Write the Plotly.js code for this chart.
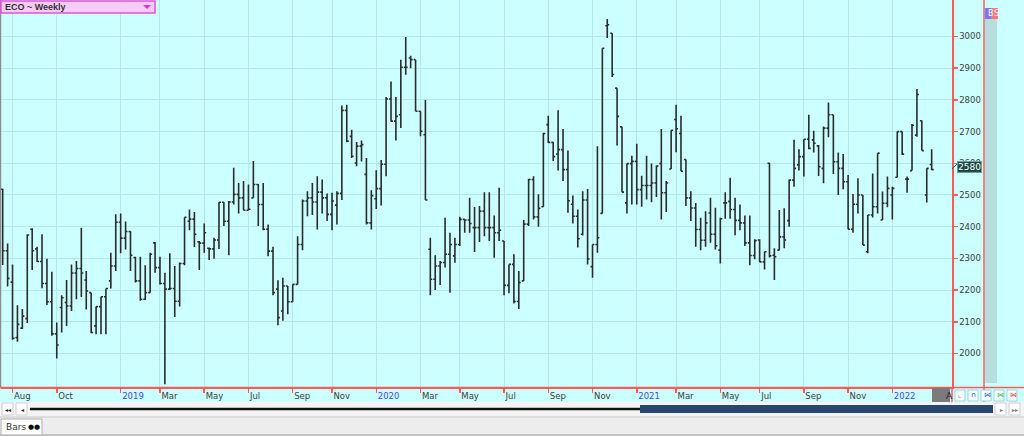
<!DOCTYPE html>
<html>
<head>
<meta charset="utf-8">
<script src="https://cdn.plot.ly/plotly-3.0.1.min.js"></script>
<style>
  html,body{margin:0;padding:0;background:#ccffff;}
  #chart{width:1024px;height:436px;}
</style>
</head>
<body>
<div id="chart"></div>
<script>
// ---- DATA (weekly bars, ECO) ----
const dates = [
'2018-07-20','2018-07-27','2018-08-03','2018-08-10','2018-08-17','2018-08-24','2018-08-31','2018-09-07','2018-09-14','2018-09-21','2018-09-28','2018-10-05','2018-10-12','2018-10-19','2018-10-26','2018-11-02','2018-11-09','2018-11-16','2018-11-23','2018-11-30','2018-12-07','2018-12-14','2018-12-21','2018-12-28',
'2019-01-04','2019-01-11','2019-01-18','2019-01-25','2019-02-01','2019-02-08','2019-02-15','2019-02-22','2019-03-01','2019-03-08','2019-03-15','2019-03-22','2019-03-29','2019-04-05','2019-04-12','2019-04-19','2019-04-26','2019-05-03','2019-05-10','2019-05-17','2019-05-24','2019-05-31','2019-06-07','2019-06-14','2019-06-21','2019-06-28','2019-07-05','2019-07-12','2019-07-19','2019-07-26','2019-08-02','2019-08-09','2019-08-16','2019-08-23','2019-08-30','2019-09-06','2019-09-13','2019-09-20','2019-09-27','2019-10-04','2019-10-11','2019-10-18','2019-10-25','2019-11-01','2019-11-08','2019-11-15','2019-11-22','2019-11-29','2019-12-06','2019-12-13','2019-12-20','2019-12-27',
'2020-01-03','2020-01-10','2020-01-17','2020-01-24','2020-01-31','2020-02-07','2020-02-14','2020-02-21','2020-02-28','2020-03-06','2020-03-13','2020-03-20','2020-03-27','2020-04-03','2020-04-10','2020-04-17','2020-04-24','2020-05-01','2020-05-08','2020-05-15','2020-05-22','2020-05-29','2020-06-05','2020-06-12','2020-06-19','2020-06-26','2020-07-03','2020-07-10','2020-07-17','2020-07-24','2020-07-31','2020-08-07','2020-08-14','2020-08-21','2020-08-28','2020-09-04','2020-09-11','2020-09-18','2020-09-25','2020-10-02','2020-10-09','2020-10-16','2020-10-23','2020-10-30','2020-11-06','2020-11-13','2020-11-20','2020-11-27','2020-12-04','2020-12-11','2020-12-18','2020-12-25',
'2021-01-01','2021-01-08','2021-01-15','2021-01-22','2021-01-29','2021-02-05','2021-02-12','2021-02-19','2021-02-26','2021-03-05','2021-03-12','2021-03-19','2021-03-26','2021-04-02','2021-04-09','2021-04-16','2021-04-23','2021-04-30','2021-05-07','2021-05-14','2021-05-21','2021-05-28','2021-06-04','2021-06-11','2021-06-18','2021-06-25','2021-07-02','2021-07-09','2021-07-16','2021-07-23','2021-07-30','2021-08-06','2021-08-13','2021-08-20','2021-08-27','2021-09-03','2021-09-10','2021-09-17','2021-09-24','2021-10-01','2021-10-08','2021-10-15','2021-10-22','2021-10-29','2021-11-05','2021-11-12','2021-11-19','2021-11-26','2021-12-03','2021-12-10','2021-12-17','2021-12-24','2021-12-31',
'2022-01-07','2022-01-14','2022-01-21','2022-01-28','2022-02-04','2022-02-11','2022-02-18','2022-02-25','2022-03-04'
];
const open = [
2518,2324,2225,2050,2080,2110,2392,2330,2290,2221,2163,2062,2145,2161,2150,2254,2268,2232,2192,2087,2148,2179,2229,2276,
2414,2364,2385,2303,2229,2171,2192,2349,2271,2221,2203,2205,2165,2284,2417,2424,2352,2348,2332,2330,2358,2477,2417,2478,2502,2491,2452,2491,2533,2470,2392,2323,2203,2134,2213,2163,2218,2344,2481,2491,2478,2509,2491,2439,2468,2505,2767,2685,2601,2654,2565,2412,
2488,2520,2597,2803,2733,2753,2903,2932,2927,2764,2690,2329,2234,2276,2287,2313,2308,2344,2423,2421,2397,2397,2449,2397,2397,2381,2355,2215,2281,2164,2229,2408,2549,2431,2463,2722,2666,2629,2643,2580,2471,2433,2376,2484,2274,2344,2442,3034,3010,2837,2715,2475,
2599,2606,2517,2530,2530,2538,2599,2507,2582,2738,2694,2612,2491,2459,2391,2357,2443,2376,2326,2475,2480,2454,2420,2412,2349,2309,2358,2289,2600,2310,2326,2368,2419,2547,2595,2621,2676,2674,2655,2584,2711,2753,2605,2584,2542,2392,2471,2500,2321,2437,2463,2421,2474,
2500,2556,2700,2550,2577,2689,2734,2500,2596
];
const high = [
2520,2347,2281,2152,2140,2376,2395,2337,2376,2299,2258,2098,2184,2232,2281,2292,2397,2260,2192,2148,2179,2205,2318,2439,
2442,2416,2386,2305,2305,2278,2318,2352,2305,2255,2316,2276,2287,2430,2454,2446,2355,2410,2334,2365,2477,2477,2481,2586,2538,2544,2533,2607,2535,2538,2407,2337,2231,2239,2213,2218,2370,2486,2512,2538,2559,2549,2505,2507,2512,2782,2785,2706,2667,2672,2617,2515,
2578,2610,2809,2858,2809,2927,2998,2939,2927,2764,2800,2365,2310,2292,2428,2381,2365,2431,2423,2491,2462,2465,2509,2509,2435,2523,2355,2281,2313,2260,2421,2551,2559,2502,2696,2750,2666,2767,2708,2640,2498,2454,2512,2519,2344,2654,2963,3055,3010,2837,2715,2599,
2624,2662,2561,2624,2599,2593,2708,2544,2704,2785,2750,2612,2512,2475,2428,2449,2491,2460,2428,2509,2554,2491,2470,2435,2435,2360,2360,2321,2602,2332,2453,2458,2549,2674,2644,2676,2753,2703,2658,2716,2792,2753,2634,2629,2563,2503,2553,2500,2437,2568,2632,2511,2558,
2526,2700,2700,2558,2724,2834,2735,2584,2644
];
const low = [
2279,2211,2043,2037,2077,2096,2263,2289,2206,2153,2056,1984,2066,2087,2134,2171,2178,2139,2064,2061,2061,2061,2205,2260,
2316,2328,2260,2224,2166,2169,2192,2255,2218,1903,2200,2115,2148,2278,2389,2336,2263,2318,2295,2299,2330,2402,2310,2470,2442,2452,2452,2491,2402,2389,2307,2184,2089,2103,2124,2163,2218,2326,2433,2437,2391,2442,2418,2389,2407,2484,2666,2617,2591,2606,2407,2391,
2456,2467,2559,2732,2672,2711,2879,2900,2764,2685,2484,2184,2200,2216,2271,2192,2286,2339,2381,2381,2320,2352,2370,2355,2302,2355,2184,2190,2158,2140,2229,2402,2423,2400,2463,2664,2607,2577,2544,2444,2410,2334,2372,2281,2239,2318,2442,2995,2872,2656,2509,2442,
2470,2470,2463,2486,2477,2494,2423,2446,2582,2635,2575,2465,2418,2337,2326,2337,2349,2328,2284,2425,2425,2373,2389,2339,2278,2297,2289,2265,2303,2232,2326,2332,2400,2526,2577,2558,2644,2634,2560,2537,2682,2566,2500,2518,2392,2381,2442,2342,2316,2429,2442,2421,2461,
2423,2556,2626,2507,2577,2684,2640,2476,2579
];
const close = [
2324,2237,2048,2092,2118,2374,2324,2290,2221,2163,2062,2027,2176,2150,2254,2268,2254,2197,2066,2148,2179,2205,2276,2414,
2364,2385,2310,2229,2171,2192,2313,2271,2221,2203,2205,2165,2284,2430,2424,2376,2348,2381,2330,2358,2477,2417,2478,2502,2491,2452,2455,2533,2470,2392,2323,2192,2113,2213,2163,2218,2344,2481,2491,2478,2509,2491,2439,2481,2505,2767,2670,2622,2654,2659,2412,2498,
2520,2597,2803,2733,2748,2903,2903,2927,2764,2701,2484,2234,2276,2287,2313,2344,2344,2423,2421,2410,2397,2449,2397,2397,2381,2389,2215,2281,2164,2224,2408,2549,2431,2458,2694,2666,2621,2643,2580,2482,2433,2362,2484,2298,2344,2365,2963,3037,2880,2748,2509,2599,
2606,2517,2530,2530,2538,2591,2507,2538,2704,2709,2575,2491,2459,2391,2357,2412,2376,2340,2425,2475,2454,2420,2412,2349,2309,2356,2289,2321,2308,2305,2368,2358,2547,2584,2621,2676,2647,2663,2589,2711,2753,2605,2584,2542,2392,2471,2500,2342,2437,2463,2632,2474,2521,
2521,2700,2629,2550,2720,2817,2640,2584,2580
];
const tickDates = ['2018-08-03','2018-10-05','2019-01-04','2019-03-01','2019-05-03','2019-07-05','2019-09-06','2019-11-01','2020-01-03','2020-03-06','2020-05-01','2020-07-03','2020-09-04','2020-11-06','2021-01-08','2021-03-05','2021-05-07','2021-07-02','2021-09-03','2021-11-05','2022-01-07'];
const tickLabels = ['Aug','Oct','2019','Mar','May','Jul','Sep','Nov','2020','Mar','May','Jul','Sep','Nov','2021','Mar','May','Jul','Sep','Nov','2022'];
const priceTicks = [2000,2100,2200,2300,2400,2500,2600,2700,2800,2900,3000];
const lastPrice = '2580';
const chartTitle = 'ECO ~ Weekly';

// ---- LAYOUT HELPERS (pixel -> paper) ----
const PL = 1, PR = 952, PT = 0, PB = 387;
const fx = p => (p - PL) / (PR - PL);
const fy = p => (PB - p) / (PB - PT);
function rect(x0, y0, x1, y1, fill, lineColor, lw) {
  return {type:'rect', xref:'paper', yref:'paper', x0:fx(x0), x1:fx(x1), y0:fy(y1), y1:fy(y0),
    fillcolor:fill, line:{color:lineColor || fill, width: lw === undefined ? (lineColor ? 1 : 0) : lw}, layer:'above'};
}
function seg(x0, y0, x1, y1, color, w) {
  return {type:'line', xref:'paper', yref:'paper', x0:fx(x0), x1:fx(x1), y0:fy(y0), y1:fy(y1),
    line:{color:color, width:w}, layer:'above'};
}
function label(text, px, py, size, color, opts) {
  return Object.assign({xref:'paper', yref:'paper', x:fx(px), y:fy(py), text:text, showarrow:false,
    xanchor:'left', yanchor:'middle', font:{family:'DejaVu Sans', size:size, color:color}}, opts || {});
}

const isYear = t => /^\d{4}$/.test(t);
const tickText = tickLabels.map(t => isYear(t) ? '<span style="color:#4444ff">' + t + '</span>' : t);

const red = '#ff5a5a';
const trace = {
  type:'ohlc', x:dates, open:open, high:high, low:low, close:close,
  increasing:{line:{color:'#2b2b2b', width:1.6}},
  decreasing:{line:{color:'#2b2b2b', width:1.6}},
  tickwidth:0.4, hoverinfo:'skip', showlegend:false
};

const shapes = [
  // left grey border
  seg(0.5, 0, 0.5, 387, '#8c8c8c', 1.5),
  // axis line extensions
  seg(0, 387.5, 1024, 387.5, red, 1.5),
  seg(952, 387, 952, 402, red, 1.5),
  seg(984, 0, 984, 402, red, 1.5),
  // right grey strip
  rect(985, 19, 997, 383, '#b7dede'),
  // B / S buttons
  rect(985, 8, 991, 19, '#7777ff'),
  rect(991, 8, 998, 19, '#ff7777'),
  // title box
  rect(1, 1, 155, 13, '#f6cbf6', '#dd55dd', 1.5),
  {type:'path', xref:'paper', yref:'paper', layer:'above', fillcolor:'#dd33dd', line:{width:0},
   path:'M ' + fx(143) + ' ' + fy(5) + ' L ' + fx(151) + ' ' + fy(5) + ' L ' + fx(147) + ' ' + fy(9) + ' Z'},
  // grey "A" box
  rect(932, 388, 950, 402, '#7b7b7b'),
  // small buttons on axis row
  rect(955, 390, 965, 401, '#f2ffff', '#a9d3d8'),
  rect(968, 390, 978, 401, '#f2ffff', '#a9d3d8'),
  rect(981, 390, 991, 401, '#f2ffff', '#a9d3d8'),
  rect(994, 390, 1004, 401, '#f2ffff', '#a9d3d8'),
  rect(1007, 390, 1017, 401, '#f2ffff', '#a9d3d8'),
  // bottom rows
  rect(0, 402, 1024, 417, '#f4f4f4'),
  rect(0, 417, 1024, 436, '#ededed'),
  seg(0, 417, 1024, 417, '#c9c9c9', 1),
  seg(0, 435, 1024, 435, '#9a9a9a', 1),
  rect(2, 403, 13, 415, '#ffffff', '#d0d0d0'),
  rect(16, 403, 27, 415, '#ffffff', '#d0d0d0'),
  rect(995, 403, 1006, 415, '#ffffff', '#d0d0d0'),
  rect(1009, 403, 1020, 415, '#ffffff', '#d0d0d0'),
  seg(30, 409, 641, 409, '#111111', 2.5),
  rect(640, 405, 993, 413, '#27476f'),
  // tab
  rect(1, 419, 42, 435, '#ffffff', '#b0b0b0'),
  // last price pointer
  seg(952, 169, 958, 163, '#2d5c5a', 1)
];

const annotations = [
  label('<b>' + chartTitle + '</b>', 3, 7, 8, '#333333', {font:{family:'Liberation Sans', size:9, color:'#333333'}}),
  label('B', 985.5, 13.5, 8, '#ffffff'),
  label('S', 991.5, 13.5, 8, '#ffffff'),
  label(lastPrice, 957, 166.5, 9, '#ffffff', {bgcolor:'#1d4946', bordercolor:'#6f9d9b', borderwidth:1, borderpad:0}),
  label('A', 944, 396, 9, '#222222'),
  label('⌞', 956, 395.5, 7, '#ee3333'),
  label('∩', 969, 395.5, 7, '#3344dd'),
  label('⋈', 982, 395.5, 7, '#3355ee'),
  label('⋈', 995, 395.5, 7, '#33bb44'),
  label('⋈', 1008, 395.5, 7, '#ee3333'),
  label('◂◂', 3, 409, 6, '#222222'),
  label('◂', 19, 409, 6, '#222222'),
  label('▸', 998, 409, 6, '#777777'),
  label('▸▸', 1010, 409, 6, '#777777'),
  label('Bars', 4, 427, 9, '#333333'),
  label('●●', 26, 427, 7, '#111111')
];

const layout = {
  width:1024, height:436,
  margin:{l:PL, r:1024-PR, t:PT, b:436-PB, pad:0},
  paper_bgcolor:'#ccffff', plot_bgcolor:'#ccffff',
  showlegend:false, dragmode:false,
  font:{family:'DejaVu Sans', size:9, color:'#3c3c3c'},
  xaxis:{
    type:'date', range:['2018-07-17 14:00','2022-04-01 23:00'],
    tickmode:'array', tickvals:tickDates, ticktext:tickText,
    ticks:'outside', ticklen:4, tickcolor:red, tickwidth:1.5,
    ticklabelposition:'outside right',
    showline:true, linecolor:red, linewidth:1.5,
    showgrid:true, gridcolor:'#b2e9e9', gridwidth:1,
    zeroline:false, fixedrange:true,
    rangeslider:{visible:false},
    tickfont:{family:'DejaVu Sans', size:8.5, color:'#3c3c3c'}
  },
  yaxis:{
    side:'right', range:[1894.3, 3115.1],
    tickmode:'array', tickvals:priceTicks,
    ticks:'outside', ticklen:4, tickcolor:red, tickwidth:1.5,
    showline:true, linecolor:red, linewidth:1.5,
    showgrid:true, gridcolor:'#b2e9e9', gridwidth:1,
    zeroline:false, fixedrange:true,
    tickfont:{family:'DejaVu Sans', size:8.5, color:'#3c3c3c'}
  },
  shapes:shapes,
  annotations:annotations
};

Plotly.newPlot('chart', [trace], layout, {staticPlot:true, displayModeBar:false});
</script>
</body>
</html>
